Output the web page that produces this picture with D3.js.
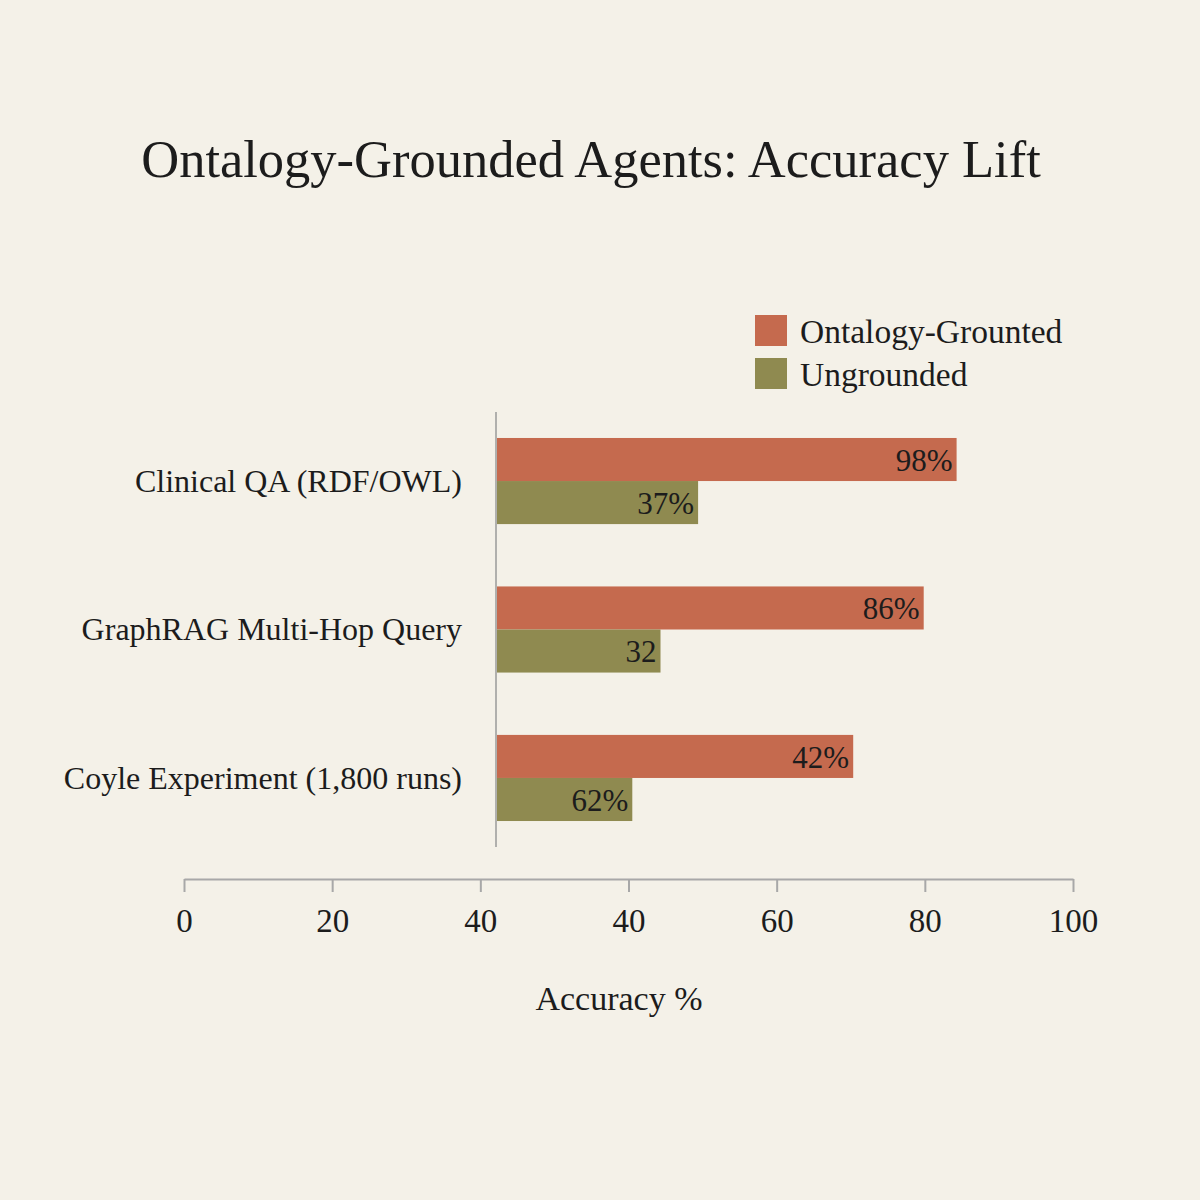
<!DOCTYPE html>
<html>
<head>
<meta charset="utf-8">
<script src="https://cdn.jsdelivr.net/npm/d3@7"></script>
<style>
  body { margin: 0; background: #f4f1e8; }
  svg { display: block; }
  text { font-family: "Liberation Serif", "Times New Roman", serif; fill: #1c1c1c; }
</style>
</head>
<body>
<div id="chart"></div>
<script>
// Chart data
const categories = ["Clinical QA (RDF/OWL)", "GraphRAG Multi-Hop Query", "Coyle Experiment (1,800 runs)"];
const series = ["Ontalogy-Grounted", "Ungrounded"];
const groundedValues = [98, 91, 76];
const ungroundedValues = [43, 35, 29];
const groundedLabels = ["98%", "86%", "42%"];
const ungroundedLabels = ["37%", "32", "62%"];
const axisTickLabels = ["0", "20", "40", "40", "60", "80", "100"];

const colors = ["#c56a4e", "#8f8a50"];

const width = 1200, height = 1200;

const svg = d3.select("#chart")
  .append("svg")
  .attr("width", width)
  .attr("height", height);

svg.append("rect")
  .attr("width", width)
  .attr("height", height)
  .attr("fill", "#f4f1e8");

// Title
svg.append("text")
  .attr("x", 591)
  .attr("y", 177)
  .attr("text-anchor", "middle")
  .attr("font-size", 52.5)
  .text("Ontalogy-Grounded Agents: Accuracy Lift");

// Scales for the bars
const x = d3.scaleLinear()
  .domain([0, 100])
  .range([496, 966]);

const y = d3.scaleBand()
  .domain(categories)
  .range([412, 847])
  .paddingInner(0.42)
  .paddingOuter(0.175);

const sub = d3.scaleBand()
  .domain(series)
  .range([0, y.bandwidth()]);

// Vertical axis line (no ticks)
svg.append("line")
  .attr("x1", x(0)).attr("x2", x(0))
  .attr("y1", 412).attr("y2", 847)
  .attr("stroke", "#9a9a9a")
  .attr("stroke-width", 1.5);

// Bars
const rows = categories.map((c, i) => ({
  cat: c,
  values: [
    { s: series[0], v: groundedValues[i], label: groundedLabels[i] },
    { s: series[1], v: ungroundedValues[i], label: ungroundedLabels[i] }
  ]
}));

const group = svg.selectAll("g.row")
  .data(rows)
  .enter()
  .append("g")
  .attr("class", "row")
  .attr("transform", (d) => `translate(0, ${y(d.cat)})`);

group.selectAll("rect")
  .data((d) => d.values)
  .enter()
  .append("rect")
  .attr("x", x(0) + 1)
  .attr("y", (d) => sub(d.s))
  .attr("width", (d) => x(d.v) - x(0) - 1)
  .attr("height", sub.bandwidth())
  .attr("fill", (d, i) => colors[i]);

group.selectAll("text.val")
  .data((d) => d.values)
  .enter()
  .append("text")
  .attr("class", "val")
  .attr("x", (d) => x(d.v) - 4)
  .attr("y", (d) => sub(d.s) + sub.bandwidth() / 2)
  .attr("dy", "0.36em")
  .attr("text-anchor", "end")
  .attr("font-size", 31)
  .text((d) => d.label);

// Category labels
group.append("text")
  .attr("x", 462)
  .attr("y", y.bandwidth() / 2)
  .attr("dy", "0.33em")
  .attr("text-anchor", "end")
  .attr("font-size", 32)
  .text((d) => d.cat);

// Bottom axis
const xAxis = d3.scalePoint()
  .domain(d3.range(axisTickLabels.length))
  .range([184, 1073]);

const axisG = svg.append("g")
  .attr("transform", "translate(0, 879)")
  .call(d3.axisBottom(xAxis)
    .tickSize(13)
    .tickSizeOuter(0)
    .tickPadding(17)
    .tickFormat((i) => axisTickLabels[i]));

axisG.select(".domain").attr("stroke", "#a8a8a8").attr("stroke-width", 2);
axisG.selectAll(".tick line").attr("stroke", "#a8a8a8").attr("stroke-width", 2);
axisG.selectAll(".tick text")
  .attr("font-family", "Liberation Serif, serif")
  .attr("font-size", 33)
  .attr("fill", "#1c1c1c");

svg.append("text")
  .attr("x", 619)
  .attr("y", 1010)
  .attr("text-anchor", "middle")
  .attr("font-size", 34)
  .text("Accuracy %");

// Legend
const legend = svg.append("g")
  .attr("transform", "translate(755, 315)");

const item = legend.selectAll("g")
  .data(series)
  .enter()
  .append("g")
  .attr("transform", (d, i) => `translate(0, ${i * 43})`);

item.append("rect")
  .attr("width", 32)
  .attr("height", 31)
  .attr("fill", (d, i) => colors[i]);

item.append("text")
  .attr("x", 45)
  .attr("y", 16)
  .attr("dy", "0.35em")
  .attr("font-size", 33.5)
  .text((d) => d);
</script>
</body>
</html>
